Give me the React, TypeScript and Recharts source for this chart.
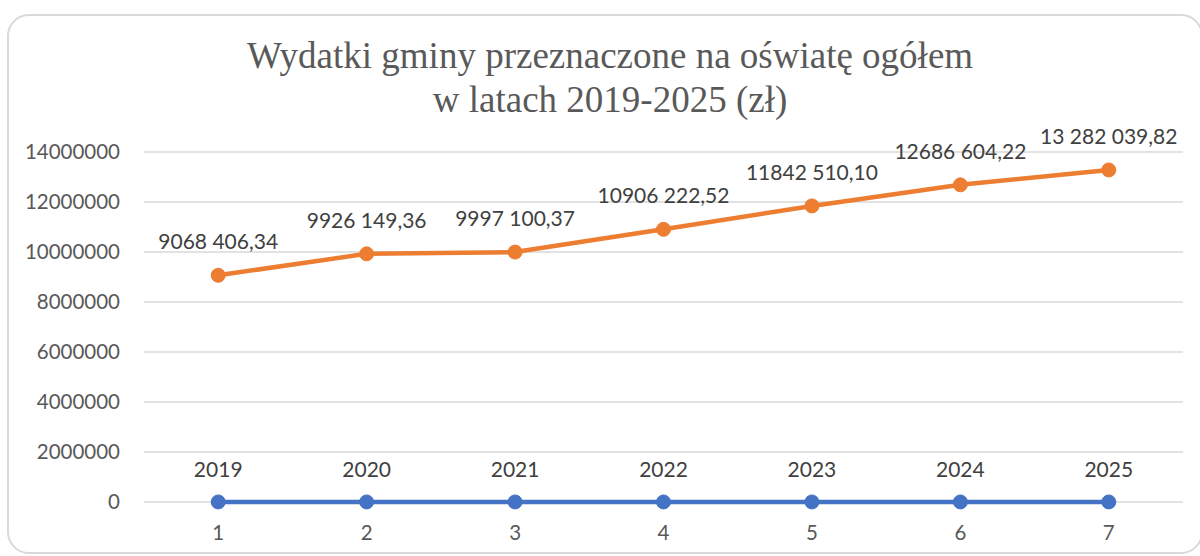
import { LineChart, Line, XAxis, YAxis, CartesianGrid, LabelList } from "recharts";

const CATEGORIES = [1, 2, 3, 4, 5, 6, 7];
const SPENDING = [9068406.34, 9926149.36, 9997100.37, 10906222.52, 11842510.1, 12686604.22, 13282039.82];
const SPENDING_LABELS = [
  "9068 406,34",
  "9926 149,36",
  "9997 100,37",
  "10906 222,52",
  "11842 510,10",
  "12686 604,22",
  "13 282 039,82",
];
const YEARS = [2019, 2020, 2021, 2022, 2023, 2024, 2025];
const Y_TICKS = [0, 2000000, 4000000, 6000000, 8000000, 10000000, 12000000, 14000000];

const data = CATEGORIES.map((c, i) => ({
  x: c,
  spending: SPENDING[i],
  spendingLabel: SPENDING_LABELS[i],
  year: YEARS[i],
}));

const FONT = "Lato, 'Open Sans', sans-serif";

export default function App() {
  return (
    <div style={{ position: "fixed", left: 0, top: 0, width: 1200, height: 556, overflow: "hidden", background: "#fff" }}>
      <div
        style={{
          position: "absolute",
          left: 7,
          top: 14,
          width: 1196,
          height: 540,
          border: "2px solid #d9d9d9",
          borderRadius: 22,
          boxSizing: "border-box",
        }}
      />
      <div
        style={{
          position: "absolute",
          left: 110,
          width: 1000,
          top: 34,
          textAlign: "center",
          whiteSpace: "nowrap",
          fontFamily: "'Liberation Serif', 'Times New Roman', serif",
          fontSize: 37,
          lineHeight: "44px",
          color: "#595959",
        }}
      >
        Wydatki gminy przeznaczone na oświatę ogółem
        <br />
        w latach 2019-2025 (zł)
      </div>
      <div style={{ position: "absolute", left: 0, top: 0 }}>
        <LineChart width={1200} height={556} data={data} margin={{ top: 152, right: 17, bottom: 0, left: 0 }}>
          <CartesianGrid vertical={false} stroke="#d9d9d9" strokeWidth={1.5} />
          <XAxis
            dataKey="x"
            scale="band"
            axisLine={false}
            tickLine={false}
            tickSize={0}
            tickMargin={23}
            height={54}
            tick={{ fill: "#595959", fontSize: 20.5, fontFamily: FONT }}
          />
          <YAxis
            domain={[0, 14000000]}
            ticks={Y_TICKS}
            axisLine={false}
            tickLine={false}
            tickSize={0}
            tickMargin={24}
            width={144}
            interval={0}
            tick={{ fill: "#595959", fontSize: 20.5, fontFamily: FONT }}
          />
          <Line
            dataKey="year"
            stroke="#4472c4"
            strokeWidth={4.5}
            dot={{ r: 7, fill: "#4472c4", stroke: "#4472c4", strokeWidth: 1 }}
            isAnimationActive={false}
          >
            <LabelList dataKey="year" position="top" offset={25} fill="#404040" fontSize={21} fontFamily={FONT} />
          </Line>
          <Line
            dataKey="spending"
            stroke="#ed7d31"
            strokeWidth={4.5}
            dot={{ r: 7, fill: "#ed7d31", stroke: "#ed7d31", strokeWidth: 1 }}
            isAnimationActive={false}
          >
            <LabelList dataKey="spendingLabel" position="top" offset={26} fill="#404040" fontSize={21} fontFamily={FONT} />
          </Line>
        </LineChart>
      </div>
    </div>
  );
}
